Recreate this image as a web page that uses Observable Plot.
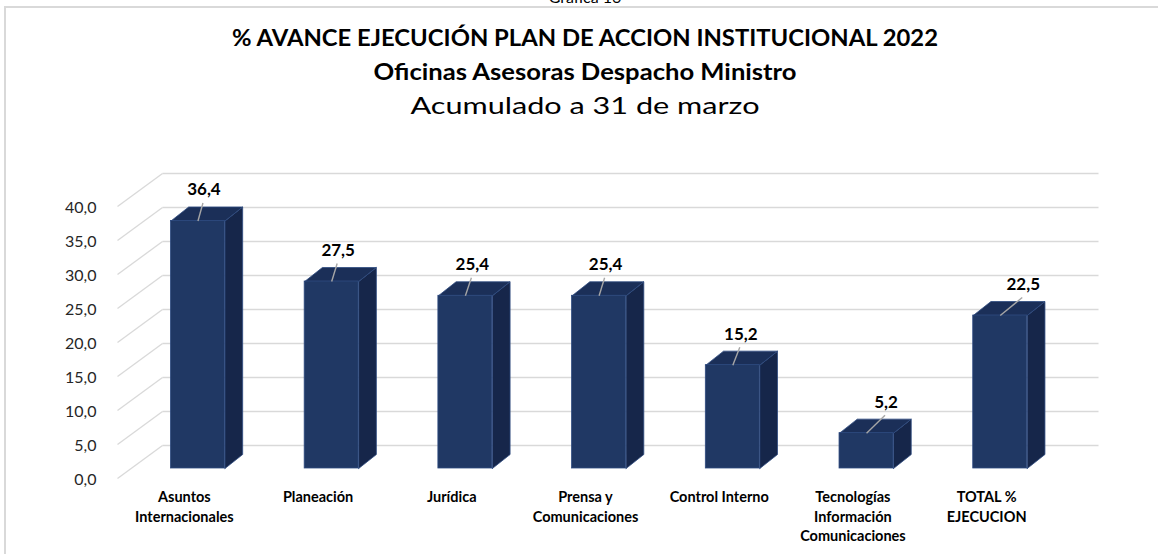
<!DOCTYPE html>
<html><head><meta charset="utf-8">
<script src="https://cdn.jsdelivr.net/npm/d3@7"></script>
<script src="https://cdn.jsdelivr.net/npm/@observablehq/plot@0.6"></script>
<style>
html,body{margin:0;padding:0;background:#fff;}
#wrap{position:relative;width:1158px;height:554px;overflow:hidden;font-family:Lato,sans-serif;}
#frame{position:absolute;left:4px;top:6px;width:1180px;height:580px;border-top:2px solid #d9d9d9;border-left:2px solid #d9d9d9;box-sizing:border-box;}
#chart{position:absolute;left:0;top:0;}
#titles{position:absolute;left:0;top:0;}
</style></head><body>
<div id="wrap"><div id="frame"></div><div id="chart"></div><svg id="titles" width="1158" height="130"></svg></div>
<script>
// ---- data ----
const categories = ["Asuntos\nInternacionales", "Planeación", "Jurídica", "Prensa y\nComunicaciones", "Control Interno", "Tecnologías\nInformación\nComunicaciones", "TOTAL %\nEJECUCION"];
const values = [36.4, 27.5, 25.4, 25.4, 15.2, 5.2, 22.5];
const yTicks = [0, 5, 10, 15, 20, 25, 30, 35, 40];
const caption = "Gráfica 16";
const title = "% AVANCE EJECUCIÓN PLAN DE ACCION INSTITUCIONAL 2022";
const subtitle = "Oficinas Asesoras Despacho Ministro";
const subtitle2 = "Acumulado a 31 de marzo";

// ---- geometry (pixels) ----
const W = 1158, H = 554;
const xL = 130.6, xR = 1066.6, yB = 468, yT = 196;
const kx = 7 / (xR - xL), ky = 40 / (yB - yT);
const half = 27 * kx;                 // half bar width
const dX = 17.7 * kx, dY = 14 * ky;   // bar depth
const wallDX = 31.4 * kx, wallDY = 23 * ky;
const frontDX = -13.6 * kx, frontDY = -10 * ky;
const tickLabelX = -0.5 + (96 - xL) * kx;
const labelShift = [6, 6.5, 7, 6.5, 8, 19.5, 23];

const bars = values.map((v, i) => ({i, v, cat: categories[i]}));
const sideFace = [], topFace = [];
bars.forEach(({i, v}) => {
  const xl = i - half, xr = i + half;
  [[xr, 0], [xr + dX, dY], [xr + dX, v + dY], [xr, v], [xr, 0]].forEach(([x, y]) => sideFace.push({x, y, g: i}));
  [[xl, v], [xr, v], [xr + dX, v + dY], [xl + dX, v + dY], [xl, v]].forEach(([x, y]) => topFace.push({x, y, g: i}));
});

const fmt = d => d.toFixed(1).replace(".", ",");
const frontC = "#203864", sideC = "#16264a", topC = "#1b2f58", edge = "#2f4b80";

const chart = Plot.plot({
  width: W, height: H,
  marginLeft: xL, marginRight: W - xR, marginTop: yT, marginBottom: H - yB,
  x: {domain: [-0.5, 6.5], axis: null},
  y: {domain: [0, 40], axis: null},
  style: {fontFamily: "Lato, sans-serif", fontSize: "15px", color: "#262626", background: "transparent", overflow: "visible"},
  marks: [
    Plot.link(yTicks, {x1: -0.5 + wallDX, x2: 6.5 + wallDX, y1: d => d + wallDY, y2: d => d + wallDY, stroke: "#d9d9d9", strokeWidth: 1.3}),
    Plot.link(yTicks, {x1: -0.5 + frontDX, y1: d => d + frontDY, x2: -0.5 + wallDX, y2: d => d + wallDY, stroke: "#d9d9d9", strokeWidth: 1.3}),
    Plot.text(yTicks, {x: tickLabelX, y: d => d, text: fmt, textAnchor: "end", dy: 11, fontSize: 16, fill: "#262626"}),
    Plot.line(sideFace, {x: "x", y: "y", z: "g", fill: sideC, stroke: edge, strokeWidth: 0.8, curve: "linear"}),
    Plot.line(topFace, {x: "x", y: "y", z: "g", fill: topC, stroke: edge, strokeWidth: 0.8, curve: "linear"}),
    Plot.rect(bars, {x1: d => d.i - half, x2: d => d.i + half, y1: 0, y2: "v", fill: frontC, stroke: edge, strokeWidth: 0.8}),
    Plot.link(bars, {x1: "i", y1: "v", x2: d => d.i + (labelShift[d.i] - 1) * kx, y2: d => d.v + 18 * ky, stroke: "#a6a6a6", strokeWidth: 1.4}),
    Plot.text(bars, {x: d => d.i + labelShift[d.i] * kx, y: d => d.v + 31 * ky, text: d => fmt(d.v), fontSize: 17, fontWeight: "bold", fill: "#000"}),
    Plot.text(bars, {x: d => d.i + frontDX, y: 0, text: "cat", lineAnchor: "top", dy: 20, fontSize: 14.5, fontWeight: "bold", lineHeight: 1.345, fill: "#000"})
  ]
});
document.getElementById("chart").appendChild(chart);

const t = d3.select("#titles");
const lines = [
  {text: caption, y: 3, size: 16, weight: "normal", len: null},
  {text: title, y: 46, size: 22, weight: "bold", len: 706},
  {text: subtitle, y: 80, size: 22, weight: "bold", len: 423},
  {text: subtitle2, y: 114, size: 23, weight: "normal", len: 349}
];
lines.forEach(l => {
  const el = t.append("text").attr("x", 585).attr("y", l.y).attr("text-anchor", "middle")
    .attr("font-family", "Lato, sans-serif").attr("font-size", l.size).attr("font-weight", l.weight)
    .attr("fill", "#000").text(l.text);
  if (l.len) el.attr("textLength", l.len).attr("lengthAdjust", "spacingAndGlyphs");
});
</script>
</body></html>
